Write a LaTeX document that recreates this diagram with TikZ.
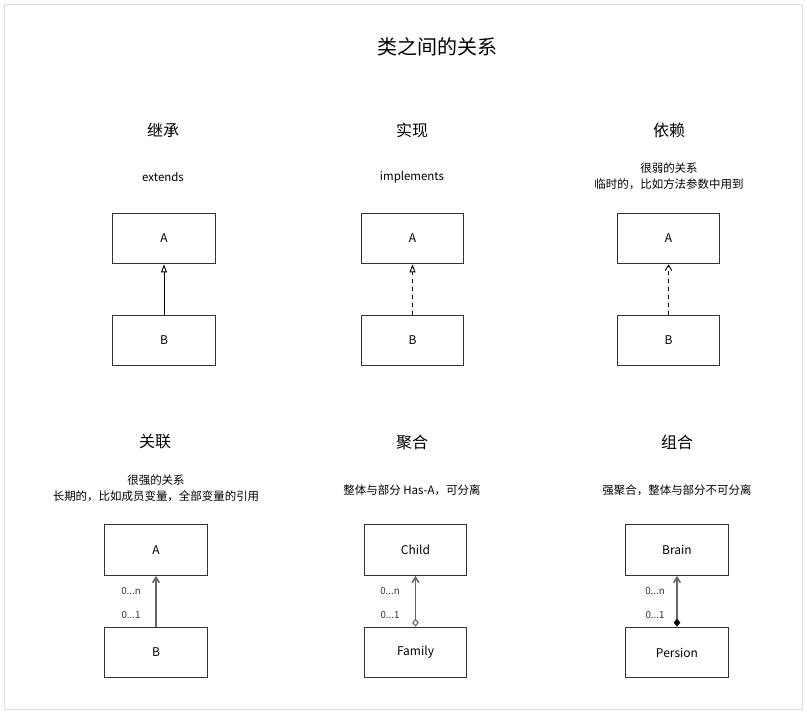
\documentclass[tikz,border=0pt]{standalone}
\usepackage{fontspec}
\setmainfont{Noto Sans CJK SC}
\usetikzlibrary{arrows.meta}

\tikzset{
    classbox/.style={draw=black!80, line width=0.8pt, minimum width=77pt, minimum height=38pt, inner sep=0pt, font=\fontsize{9}{10}\selectfont},
    heading/.style={font=\fontsize{12}{14}\selectfont},
    note/.style={font=\fontsize{8.6}{12}\selectfont, align=center},
    mult/.style={font=\fontsize{7.3}{8}\selectfont, text=black!80},
    inherit/.style={draw=black, line width=0.7pt, -{Triangle[open, length=6pt, width=4.5pt]}},
    assoc/.style={draw=black!60, line width=1.2pt, -{Straight Barb[length=4pt, width=5pt]}},
}

\begin{document}
\begin{tikzpicture}[x=0.75pt, y=-0.75pt]
    \useasboundingbox (0,0) rectangle (807,714);
    \draw [black!12, line width=0.8pt] (4.5,4.5) rectangle (802.5,709.5);

    \node [font=\fontsize{15}{18}\selectfont] (title) at (437,47) {类之间的关系};

    % upper row
    \node [heading] (hInherit) at (163,130) {继承};
    \node [heading] (hRealize) at (412,130) {实现};
    \node [heading] (hDepend)  at (669,130) {依赖};

    \node [note] (nInherit) at (163,177) {extends};
    \node [note] (nRealize) at (412,177) {implements};
    \node [note] (nDepend)  at (669,176) {很弱的关系\\临时的，比如方法参数中用到};

    \node [classbox] (iA) at (164,238.5) {A};
    \node [classbox] (iB) at (164,340.5) {B};
    \node [classbox] (rA) at (412.5,238.5) {A};
    \node [classbox] (rB) at (412.5,340.5) {B};
    \node [classbox] (dA) at (668.5,238.5) {A};
    \node [classbox] (dB) at (668.5,340.5) {B};

    \draw [inherit] (iB) -- (iA);
    \draw [inherit, dashed] (rB) -- (rA);
    \draw [black, line width=0.7pt, dashed, -{Straight Barb[length=4pt, width=5pt]}] (dB) -- (dA);

    % lower row
    \node [heading] (hAssoc) at (155,442) {关联};
    \node [heading] (hAggr)  at (412,442) {聚合};
    \node [heading] (hComp)  at (677,442) {组合};

    \node [note] (nAssoc) at (156,488) {很强的关系\\长期的，比如成员变量，全部变量的引用};
    \node [note] (nAggr)  at (412,490) {整体与部分 Has-A，可分离};
    \node [note] (nComp)  at (677,490) {强聚合，整体与部分不可分离};

    \node [classbox] (aA) at (156,550) {A};
    \node [classbox] (aB) at (156,652.5) {B};
    \node [classbox] (child)  at (415.5,550) {Child};
    \node [classbox] (family) at (415.5,652.5) {Family};
    \node [classbox] (brain)   at (677,550) {Brain};
    \node [classbox] (persion) at (677,652.5) {Persion};

    \draw [assoc] (aB) -- (aA);
    \draw [assoc, {Diamond[open, length=6pt, width=5pt, line width=0.8pt]}-{Straight Barb[length=4pt, width=5pt]}] (family) -- (child);
    \draw [assoc, {Diamond[length=6pt, width=5pt, black]}-{Straight Barb[length=4pt, width=5pt]}] (persion) -- (brain);

    \node [mult] (aN) at (131,591) {0...n};
    \node [mult] (a1) at (131,615) {0...1};
    \node [mult] (gN) at (390,591) {0...n};
    \node [mult] (g1) at (390,615) {0...1};
    \node [mult] (cN) at (655,591) {0...n};
    \node [mult] (c1) at (655,615) {0...1};
\end{tikzpicture}
\end{document}
